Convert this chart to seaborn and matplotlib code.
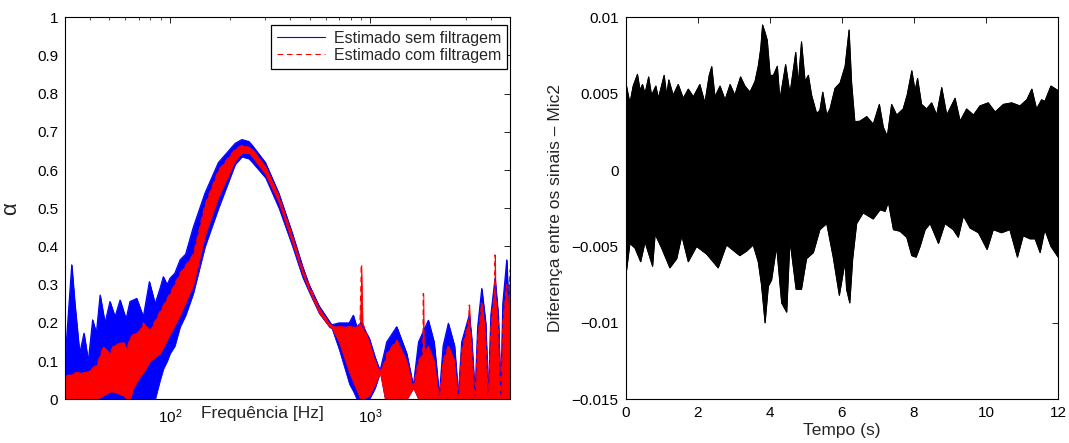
import numpy as np
import pandas as pd
import seaborn as sns
import matplotlib.pyplot as plt
from matplotlib.ticker import FixedLocator, FixedFormatter

# Coeficiente de absorção estimado (envoltórias)
freq_azul = [30, 32.4, 33.6, 35.5, 37.3, 39.2, 41.2, 43.0, 44.9, 47.5,
             50.3, 53.3, 56.5, 60.5, 63.3, 68.4, 73.8, 79.1, 84.5, 89.4,
             92.9, 97, 100.3, 106, 112.6, 120, 131, 150, 175, 212,
             229, 248, 258, 300, 350, 409, 459, 496, 556, 625,
             644, 700, 787, 825, 858, 900, 991, 1060, 1122, 1188,
             1211, 1359, 1524, 1645, 1746, 1955, 2088, 2218, 2317, 2460,
             2641, 2760, 2868, 3131, 3217, 3343, 3447, 3612, 3780, 3897,
             4010, 4208, 4369, 4495, 4600, 4815, 4905, 5000]
azul_sup = [0.10, 0.352, 0.25, 0.12, 0.173, 0.10, 0.208, 0.173, 0.273, 0.20,
            0.256, 0.216, 0.26, 0.21, 0.256, 0.264, 0.216, 0.308, 0.25, 0.29,
            0.321, 0.30, 0.317, 0.33, 0.365, 0.38, 0.45, 0.54, 0.62, 0.67,
            0.68, 0.675, 0.665, 0.62, 0.54, 0.435, 0.35, 0.30, 0.245, 0.205,
            0.195, 0.20, 0.20, 0.22, 0.19, 0.20, 0.16, 0.11, 0.075, 0.13,
            0.15, 0.19, 0.12, 0.035, 0.15, 0.207, 0.15, 0.01, 0.14, 0.199,
            0.14, 0.01, 0.15, 0.221, 0.16, 0.01, 0.19, 0.29, 0.20, 0.01,
            0.22, 0.317, 0.22, 0.01, 0.25, 0.365, 0.26, 0.30]
azul_inf = [0, 0, 0, 0, 0, 0, 0, 0, 0, 0,
            0, 0, 0, 0, 0, 0, 0, 0, 0, 0.05,
            0.08, 0.10, 0.12, 0.14, 0.19, 0.22, 0.277, 0.40, 0.50, 0.615,
            0.635, 0.63, 0.62, 0.58, 0.50, 0.40, 0.32, 0.28, 0.225, 0.19,
            0.185, 0.13, 0.04, 0.02, 0, 0, 0, 0.03, 0.07, 0,
            0, 0, 0, 0.03, 0, 0, 0, 0, 0, 0,
            0, 0, 0, 0, 0, 0, 0, 0, 0, 0,
            0, 0, 0, 0, 0, 0, 0, 0]

freq_verm = [30, 34.3, 38.5, 43.2, 46.6, 50.3, 52.3, 58.7, 61.0, 63.3,
             65.8, 71.1, 73.8, 79.7, 89.4, 100.3, 112.5, 131.2, 150, 175,
             212, 229, 248, 258, 300, 350, 409, 459, 496, 556,
             625, 644, 700, 787, 880, 891, 905, 918, 991, 1060,
             1122, 1188, 1211, 1360, 1524, 1645, 1746, 1835, 1846, 1858,
             1955, 2088, 2218, 2317, 2460, 2641, 2760, 2868, 3100, 3131,
             3160, 3217, 3343, 3447, 3612, 3780, 3897, 4010, 4190, 4208,
             4230, 4369, 4495, 4600, 4815, 4905, 5000]
verm_sup = [0.06, 0.07, 0.07, 0.09, 0.138, 0.12, 0.14, 0.15, 0.13, 0.16,
            0.17, 0.18, 0.20, 0.18, 0.23, 0.277, 0.33, 0.38, 0.51, 0.60,
            0.655, 0.665, 0.66, 0.655, 0.61, 0.535, 0.43, 0.345, 0.30, 0.24,
            0.20, 0.192, 0.19, 0.19, 0.19, 0.20, 0.352, 0.20, 0.15, 0.10,
            0.075, 0.10, 0.12, 0.155, 0.10, 0.035, 0.10, 0.12, 0.277, 0.12,
            0.138, 0.10, 0.005, 0.10, 0.14, 0.10, 0.005, 0.13, 0.20, 0.247,
            0.19, 0.14, 0.005, 0.16, 0.253, 0.17, 0.005, 0.19, 0.29, 0.378,
            0.28, 0.20, 0.005, 0.20, 0.30, 0.22, 0.34]
verm_inf = [0, 0, 0, 0, 0.01, 0.02, 0.02, 0.01, 0, 0,
            0.03, 0.06, 0.07, 0.10, 0.12, 0.17, 0.22, 0.30, 0.43, 0.53,
            0.625, 0.645, 0.645, 0.635, 0.59, 0.515, 0.41, 0.33, 0.285, 0.228,
            0.19, 0.187, 0.15, 0.07, 0.01, 0, 0, 0, 0.01, 0.04,
            0.07, 0, 0, 0, 0, 0.03, 0, 0, 0, 0,
            0, 0, 0, 0, 0, 0, 0, 0, 0, 0,
            0, 0, 0, 0, 0, 0, 0, 0, 0, 0,
            0, 0, 0, 0, 0, 0, 0]

# Diferença entre os sinais - Mic2 (envoltória superior e inferior)
t_sup = [0.0, 0.03, 0.12, 0.21, 0.33, 0.40, 0.47, 0.54, 0.64, 0.72,
         0.84, 0.91, 1.07, 1.14, 1.20, 1.32, 1.46, 1.60, 1.74, 1.88,
         2.06, 2.20, 2.32, 2.39, 2.48, 2.62, 2.76, 2.90, 3.03, 3.19,
         3.31, 3.45, 3.59, 3.68, 3.75, 3.80, 3.87, 3.93, 4.01, 4.10,
         4.21, 4.28, 4.44, 4.56, 4.72, 4.79, 4.88, 4.98, 5.07, 5.16,
         5.30, 5.39, 5.47, 5.58, 5.67, 5.81, 5.95, 6.09, 6.20, 6.27,
         6.36, 6.50, 6.69, 6.87, 7.04, 7.15, 7.26, 7.38, 7.52, 7.70,
         7.81, 7.94, 8.03, 8.10, 8.21, 8.35, 8.49, 8.63, 8.77, 8.91,
         9.14, 9.28, 9.46, 9.65, 9.83, 10.06, 10.25, 10.48, 10.71, 10.94,
         11.13, 11.27, 11.40, 11.54, 11.63, 11.80, 12.0]
dif_sup = [0.0052, 0.00546, 0.00437, 0.0055, 0.00627, 0.00524, 0.0056, 0.0050, 0.0061, 0.0049,
           0.0055, 0.0047, 0.0062, 0.0049, 0.0059, 0.0049, 0.0056, 0.0047, 0.0053, 0.0048,
           0.0056, 0.0044, 0.0062, 0.00677, 0.0048, 0.0055, 0.0046, 0.0056, 0.0049, 0.0061,
           0.0055, 0.0051, 0.0058, 0.0068, 0.00797, 0.0095, 0.0090, 0.0085, 0.0062, 0.0062,
           0.0068, 0.0046, 0.0069, 0.0050, 0.0077, 0.0056, 0.0084, 0.0058, 0.0062, 0.0049,
           0.0037, 0.0039, 0.0051, 0.0036, 0.0040, 0.00535, 0.0057, 0.0068, 0.00917, 0.0057,
           0.00317, 0.0032, 0.0035, 0.0030, 0.0043, 0.0028, 0.0022, 0.0043, 0.0036, 0.0040,
           0.0049, 0.0065, 0.0052, 0.0060, 0.0043, 0.0040, 0.0044, 0.0036, 0.0054, 0.0036,
           0.0047, 0.0032, 0.0040, 0.0036, 0.0042, 0.0044, 0.0038, 0.0043, 0.0044, 0.0042,
           0.0046, 0.0053, 0.0040, 0.0046, 0.0045, 0.0055, 0.0052]
t_inf = [0.0, 0.03, 0.12, 0.26, 0.42, 0.54, 0.75, 0.82, 1.0, 1.23,
         1.42, 1.56, 1.74, 1.97, 2.25, 2.57, 2.80, 3.17, 3.36, 3.54,
         3.68, 3.77, 3.87, 3.96, 4.05, 4.19, 4.33, 4.47, 4.56, 4.73,
         4.88, 5.02, 5.21, 5.39, 5.58, 5.76, 5.93, 6.09, 6.13, 6.22,
         6.30, 6.41, 6.59, 6.87, 7.06, 7.20, 7.29, 7.43, 7.61, 7.80,
         7.94, 8.06, 8.17, 8.31, 8.45, 8.68, 8.86, 9.09, 9.23, 9.37,
         9.56, 9.79, 10.03, 10.20, 10.43, 10.66, 10.87, 11.03, 11.22, 11.36,
         11.50, 11.63, 11.80, 12.0]
dif_inf = [-0.0058, -0.00654, -0.0048, -0.0051, -0.0060, -0.0047, -0.0063, -0.0042, -0.0051, -0.0064,
           -0.0058, -0.0043, -0.0060, -0.0050, -0.0055, -0.0064, -0.0049, -0.0056, -0.0053, -0.0049,
           -0.0060, -0.0075, -0.0100, -0.0076, -0.0072, -0.0050, -0.0087, -0.0093, -0.0046, -0.0078,
           -0.0078, -0.0058, -0.0054, -0.0039, -0.0035, -0.0057, -0.0082, -0.0060, -0.0078, -0.0087,
           -0.0058, -0.0035, -0.0028, -0.0032, -0.0026, -0.0027, -0.0021, -0.0039, -0.0040, -0.0044,
           -0.0056, -0.0057, -0.0050, -0.0039, -0.0035, -0.0048, -0.0035, -0.0039, -0.0044, -0.0030,
           -0.0038, -0.0041, -0.0052, -0.0039, -0.0041, -0.0039, -0.0057, -0.0043, -0.0045, -0.0045,
           -0.0054, -0.0039, -0.0050, -0.0057]

legenda = ['Estimado sem filtragem', 'Estimado com filtragem']
alpha_ticks = [0, 0.1, 0.2, 0.3, 0.4, 0.5, 0.6, 0.7, 0.8, 0.9, 1]
alpha_labels = ['0', '0.1', '0.2', '0.3', '0.4', '0.5', '0.6', '0.7', '0.8', '0.9', '1']
dif_ticks = [-0.015, -0.01, -0.005, 0, 0.005, 0.01]
dif_labels = ['\u22120.015', '\u22120.01', '\u22120.005', '0', '0.005', '0.01']
tempo_ticks = [0, 2, 4, 6, 8, 10, 12]

sns.set_style('white')
plt.rcParams['font.family'] = ['Liberation Sans', 'DejaVu Sans']
plt.rcParams.update({
    'mathtext.fontset': 'custom', 'mathtext.rm': 'Liberation Sans',
    'mathtext.it': 'Liberation Sans:italic', 'mathtext.bf': 'Liberation Sans:bold',
    'xtick.direction': 'in', 'ytick.direction': 'in',
    'xtick.top': True, 'ytick.right': True,
    'xtick.major.size': 4, 'ytick.major.size': 4,
    'xtick.minor.size': 2.2, 'xtick.major.width': 0.6, 'ytick.major.width': 0.6,
    'xtick.minor.width': 0.5, 'axes.linewidth': 0.8,
    'axes.edgecolor': 'black', 'xtick.color': 'black', 'ytick.color': 'black',
    'xtick.labelsize': 11, 'ytick.labelsize': 11,
})

fig = plt.figure(figsize=(10.69, 4.43), dpi=100)
ax1 = fig.add_axes([65 / 1069, 43.7 / 443, 445 / 1069, 382 / 443])
ax2 = fig.add_axes([625.6 / 1069, 43.7 / 443, 432.6 / 1069, 382 / 443])

# --- painel esquerdo: alfa x frequência ---
ax1.set_xscale('log')
ax1.fill_between(freq_azul, azul_inf, azul_sup, color='#0000ff', lw=0.6)
sns.lineplot(x=freq_azul, y=azul_sup, color='#0000ff', lw=0.8, label=legenda[0], ax=ax1)
ax1.fill_between(freq_verm, verm_inf, verm_sup, color='#ff0000', lw=0.6)
sns.lineplot(x=freq_verm, y=verm_sup, color='#ff0000', lw=0.8,
             linestyle=(0, (5, 3.5)), label=legenda[1], ax=ax1)

ax1.set_xlim(30, 5000)
ax1.set_ylim(0, 1)
ax1.yaxis.set_major_locator(FixedLocator(alpha_ticks))
ax1.yaxis.set_major_formatter(FixedFormatter(alpha_labels))
ax1.tick_params(axis='x', which='both', pad=6)
ax1.tick_params(axis='y', pad=5)
ax1.set_xlabel('Frequência [Hz]', fontsize=12.5, va='center')
ax1.xaxis.set_label_coords(0.443, -0.036)
ax1.set_ylabel('\u03b1', fontsize=16)
ax1.yaxis.set_label_coords(-0.098, 0.5)

leg = ax1.legend(loc='upper right', bbox_to_anchor=(0.9933, 0.98), borderaxespad=0,
                 fontsize=11.5, frameon=True, fancybox=False, framealpha=1,
                 edgecolor='black', handlelength=3.0, handletextpad=0.6,
                 labelspacing=0.15, borderpad=0.35)
leg.get_frame().set_linewidth(0.9)

# --- painel direito: diferença no tempo ---
poly_t = list(t_sup) + list(t_inf[::-1])
poly_v = list(dif_sup) + list(dif_inf[::-1])
ax2.fill(poly_t, poly_v, color='black', lw=0.6)
sns.lineplot(x=t_sup, y=dif_sup, color='black', lw=0.8, ax=ax2)
sns.lineplot(x=t_inf, y=dif_inf, color='black', lw=0.8, ax=ax2)

ax2.set_xlim(0, 12)
ax2.set_ylim(-0.015, 0.01)
ax2.xaxis.set_major_locator(FixedLocator(tempo_ticks))
ax2.yaxis.set_major_locator(FixedLocator(dif_ticks))
ax2.yaxis.set_major_formatter(FixedFormatter(dif_labels))
ax2.tick_params(axis='both', pad=5)
ax2.set_xlabel('Tempo (s)', fontsize=12.5, labelpad=2)
ax2.set_ylabel('Diferença entre os sinais \u2013 Mic2', fontsize=12.5)
ax2.yaxis.set_label_coords(-0.145, 0.5)

for ax in (ax1, ax2):
    for s in ax.spines.values():
        s.set_visible(True)
        s.set_color('black')

fig.savefig('out.png', dpi=100)
